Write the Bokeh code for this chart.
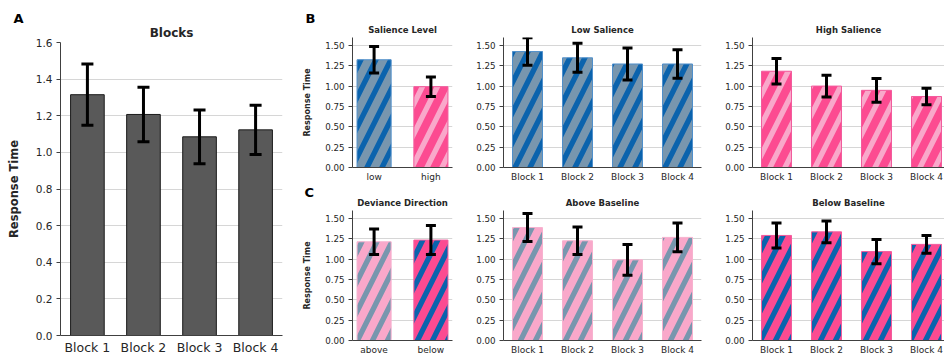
from bokeh.plotting import figure
from bokeh.layouts import row, column
from bokeh.models import (ColumnDataSource, Whisker, TeeHead, FixedTicker, Range1d,
                          PrintfTickFormatter, Title)
from bokeh.embed import file_html
from bokeh.resources import INLINE

# ---------------- data ----------------
blocks = ["Block 1", "Block 2", "Block 3", "Block 4"]
salience_levels = ["low", "high"]
deviance_dirs = ["above", "below"]

blocks_mean = [1.315, 1.207, 1.085, 1.123]
blocks_err = [0.167, 0.149, 0.147, 0.135]

salience_mean = [1.326, 0.995]
salience_err = [0.162, 0.120]

low_mean = [1.427, 1.350, 1.274, 1.274]
low_err = [0.170, 0.178, 0.196, 0.174]

high_mean = [1.185, 1.002, 0.950, 0.874]
high_err = [0.158, 0.134, 0.146, 0.102]

deviance_mean = [1.215, 1.236]
deviance_err = [0.156, 0.178]

above_mean = [1.390, 1.227, 0.993, 1.269]
above_err = [0.172, 0.170, 0.190, 0.177]

below_mean = [1.293, 1.337, 1.094, 1.183]
below_err = [0.154, 0.134, 0.148, 0.109]

a_ticks = [0.0, 0.2, 0.4, 0.6, 0.8, 1.0, 1.2, 1.4, 1.6]
bc_ticks = [0.0, 0.25, 0.50, 0.75, 1.00, 1.25, 1.50]

# ---------------- styles ----------------
FONT = "DejaVu Sans"
TEXT = "#262626"
AXIS = "#404040"
GRID = "#d6d6d6"

LOW = ("#7896ae", "#0b63ad", "#4f8fcb")      # fill, hatch, edge
HIGH = ("#fc4b91", "#f9a8ca", "#f25c9d")
ABOVE = ("#f9a8ca", "#7896ae", "#f7b2cf")
BELOW = ("#fc4b91", "#0b63ad", "#f25c9d")


def make_fig(width, height, bl, br, bt, bb, x_start, x_end, title, title_size, standoff,
             letter=None, letter_offset=0, letter_standoff=0):
    p = figure(width=width, height=height, x_range=Range1d(x_start, x_end),
               y_range=Range1d(0, 1.6), output_backend="svg", toolbar_location=None,
               min_border_left=bl, min_border_right=br, min_border_top=bt,
               min_border_bottom=bb, title=None)
    p.outline_line_color = None
    p.background_fill_color = "white"
    p.border_fill_color = "white"
    t = Title(text=title, align="center", text_font=FONT, text_font_size=title_size,
              text_font_style="bold", text_color=TEXT, standoff=standoff)
    p.add_layout(t, "above")
    if letter:
        lt = Title(text=letter, align="left", offset=letter_offset, text_font=FONT,
                   text_font_size="13px", text_font_style="bold", text_color="black",
                   standoff=letter_standoff)
        p.add_layout(lt, "above")
    return p


def style_axes(p, cats, ticks, fmt, xsize, ysize, ylabel=None, ylabel_size="8px",
               ylabel_standoff=10):
    xt = FixedTicker(ticks=list(range(len(cats))))
    p.xaxis.ticker = xt
    p.xaxis.major_label_overrides = {i: c for i, c in enumerate(cats)}
    p.xaxis.major_tick_out = 0
    p.xaxis.major_tick_in = 0
    p.xaxis.minor_tick_out = 0
    p.xaxis.minor_tick_in = 0
    p.xaxis.major_label_standoff = 4
    p.xaxis.major_label_text_font = FONT
    p.xaxis.major_label_text_font_size = xsize
    p.xaxis.major_label_text_color = TEXT
    p.xaxis.axis_line_color = AXIS

    yt = FixedTicker(ticks=ticks)
    p.yaxis.ticker = yt
    p.yaxis.formatter = PrintfTickFormatter(format=fmt)
    p.yaxis.major_tick_out = 4
    p.yaxis.major_tick_in = 0
    p.yaxis.minor_tick_out = 0
    p.yaxis.minor_tick_in = 0
    p.yaxis.major_tick_line_color = AXIS
    p.yaxis.major_label_standoff = 4
    p.yaxis.major_label_text_font = FONT
    p.yaxis.major_label_text_font_size = ysize
    p.yaxis.major_label_text_color = TEXT
    p.yaxis.axis_line_color = AXIS
    if ylabel:
        p.yaxis.axis_label = ylabel
        p.yaxis.axis_label_text_font = FONT
        p.yaxis.axis_label_text_font_size = ylabel_size
        p.yaxis.axis_label_text_font_style = "bold"
        p.yaxis.axis_label_text_color = TEXT
        p.yaxis.axis_label_standoff = ylabel_standoff

    p.xgrid.grid_line_color = None
    p.ygrid.ticker = yt
    p.ygrid.grid_line_color = GRID
    p.ygrid.grid_line_width = 1


def add_bars(p, cats, means, errs, styles, cap, hatch=True, plain=None):
    x = list(range(len(cats)))
    if hatch:
        src = ColumnDataSource(dict(x=x, top=means,
                                    fill=[s[0] for s in styles],
                                    hatch=[s[1] for s in styles],
                                    line=[s[2] for s in styles]))
        p.vbar(x="x", top="top", bottom=0, width=0.6, source=src,
               fill_color="fill", line_color="line", line_width=1,
               hatch_pattern="/", hatch_color="hatch", hatch_scale=30, hatch_weight=5.3)
    else:
        src = ColumnDataSource(dict(x=x, top=means))
        p.vbar(x="x", top="top", bottom=0, width=0.6, source=src,
               fill_color=plain[0], line_color=plain[1], line_width=1)
    wsrc = ColumnDataSource(dict(base=x,
                                 lower=[m - e for m, e in zip(means, errs)],
                                 upper=[m + e for m, e in zip(means, errs)]))
    w = Whisker(source=wsrc, base="base", lower="lower", upper="upper",
                line_width=3, line_color="black", level="overlay",
                upper_head=TeeHead(size=cap, line_width=3, line_color="black"),
                lower_head=TeeHead(size=cap, line_width=3, line_color="black"))
    p.add_layout(w)


# ---------------- panel A ----------------
pA = make_fig(292, 357, 60, 10, 42, 20, -0.48, 3.48, "Blocks", "12px", 6,
              letter="A", letter_offset=-47, letter_standoff=-11)
add_bars(pA, blocks, blocks_mean, blocks_err, None, 12, hatch=False,
         plain=("#595959", "#1a1a1a"))
style_axes(pA, blocks, a_ticks, "%.1f", "12.5px", "10.5px", "Response Time", "11.5px", 12)

# ---------------- row B ----------------
HB, BTB, BBB = 184, 37, 15
pB1 = make_fig(178, HB, 60, 18, BTB, BBB, -0.38, 1.38, "Salience Level", "8.5px", 5,
               letter="B", letter_offset=-47, letter_standoff=-10)
add_bars(pB1, salience_levels, salience_mean, salience_err, [LOW, HIGH], 10)
style_axes(pB1, salience_levels, bc_ticks, "%.2f", "9px", "8.7px", "Response Time", "8px", 10)

pB2 = make_fig(240, HB, 33, 9, BTB, BBB, -0.48, 3.48, "Low Salience", "8.5px", 5)
add_bars(pB2, blocks, low_mean, low_err, [LOW] * 4, 10)
style_axes(pB2, blocks, bc_ticks, "%.2f", "9px", "8.7px")

pB3 = make_fig(234, HB, 42, 0, BTB, BBB, -0.48, 3.36, "High Salience", "8.5px", 5)
add_bars(pB3, blocks, high_mean, high_err, [HIGH] * 4, 10)
style_axes(pB3, blocks, bc_ticks, "%.2f", "9px", "8.7px")

# ---------------- row C ----------------
HC, BTC, BBC = 173, 26, 15
pC1 = make_fig(178, HC, 60, 18, BTC, BBC, -0.38, 1.38, "Deviance Direction", "8.5px", 6,
               letter="C", letter_offset=-48, letter_standoff=-14)
add_bars(pC1, deviance_dirs, deviance_mean, deviance_err, [ABOVE, BELOW], 10)
style_axes(pC1, deviance_dirs, bc_ticks, "%.2f", "9px", "8.7px", "Response Time", "8px", 10)

pC2 = make_fig(240, HC, 33, 9, BTC, BBC, -0.48, 3.48, "Above Baseline", "8.5px", 6)
add_bars(pC2, blocks, above_mean, above_err, [ABOVE] * 4, 10)
style_axes(pC2, blocks, bc_ticks, "%.2f", "9px", "8.7px")

pC3 = make_fig(234, HC, 42, 0, BTC, BBC, -0.48, 3.36, "Below Baseline", "8.5px", 6)
add_bars(pC3, blocks, below_mean, below_err, [BELOW] * 4, 10)
style_axes(pC3, blocks, bc_ticks, "%.2f", "9px", "8.7px")

layout = row(pA, column(row(pB1, pB2, pB3), row(pC1, pC2, pC3)))

open("out.html", "w").write(file_html(layout, INLINE, title="Response Time"))
